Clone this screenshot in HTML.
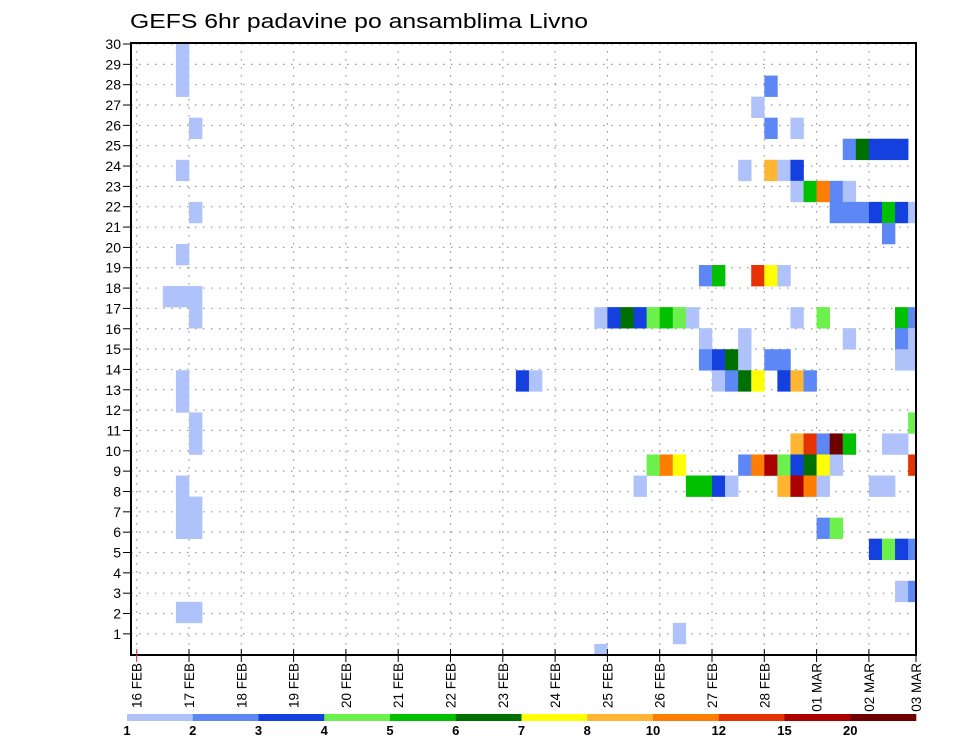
<!DOCTYPE html>
<html><head><meta charset="utf-8"><style>
html,body{margin:0;padding:0;background:#fff}
svg{display:block}
text{font-family:"Liberation Sans",sans-serif;fill:#000}
</style></head><body>
<svg id="chart" width="960" height="742" viewBox="0 0 960 742" xmlns="http://www.w3.org/2000/svg">
<text x="130" y="28" font-size="20" textLength="458" lengthAdjust="spacingAndGlyphs">GEFS 6hr padavine po ansamblima Livno</text>
<g id="grid"></g>
<g id="cells"></g>
<rect x="131" y="43" width="785" height="612" fill="none" stroke="#000" stroke-width="2"/>
<g id="yaxis"></g>
<g id="xaxis"></g>
<g id="colorbar"></g>
</svg>
<script>
const xTickLabels = ["16 FEB","17 FEB","18 FEB","19 FEB","20 FEB","21 FEB","22 FEB","23 FEB","24 FEB","25 FEB","26 FEB","27 FEB","28 FEB","01 MAR","02 MAR","03 MAR"];
const yTickLabels = [1,2,3,4,5,6,7,8,9,10,11,12,13,14,15,16,17,18,19,20,21,22,23,24,25,26,27,28,29,30];
const levelBounds = [1,2,3,4,5,6,7,8,10,12,15,20];
const levelColors = ["#afc3fa","#5c87f5","#1440e0","#6cf04c","#00c000","#007000","#ffff00","#ffb432","#ff7d00","#e63200","#aa0000","#6e0000"];
// cells: time step index (6h from 16 FEB 00z), member row, precip value
const cellRows = [
30,29,28,28,27,26,26,26,25,25,25,25,25,24,24,24,24,24,23,23,23,23,23,
22,22,22,22,22,22,22,22,21,20,19,19,19,19,19,18,18,18,
17,17,17,17,17,17,17,17,17,17,17,17,17,
16,16,16,16,16,15,15,15,15,15,15,15,15,
14,14,14,14,14,14,14,14,14,14,13,12,12,
11,11,11,11,11,11,11,11,
10,10,10,10,10,10,10,10,10,10,10,10,
9,9,9,9,9,9,9,9,9,9,9,9,
8,8,7,7,7,7,6,6,6,6,4,4,3,3,2,1];
const cellTimes = [
3,3,3,48,47,4,48,50,54,55,56,57,58,3,46,48,49,50,50,51,52,53,54,
4,53,54,55,56,57,58,59,57,3,43,44,47,48,49,2,3,4,
4,35,36,37,38,39,40,41,42,50,52,58,59,
43,46,54,58,59,43,44,45,46,48,49,58,59,
3,29,30,44,45,46,47,49,50,51,3,4,59,
4,50,51,52,53,54,57,58,
39,40,41,46,47,48,49,50,51,52,53,59,
3,38,42,43,44,45,49,50,51,52,56,57,
3,4,3,4,52,53,56,57,58,59,58,59,3,4,41,35];
const cellValues = [
1.5,1.5,1.5,2.5,1.5,1.5,2.5,1.5,2.5,6.5,3.5,3.5,3.5,1.5,1.5,9,1.5,3.5,1.5,5.5,11,2.5,1.5,
1.5,2.5,2.5,2.5,3.5,5.5,3.5,1.5,2.5,1.5,2.5,5.5,13,7.5,1.5,1.5,1.5,1.5,
1.5,1.5,3.5,6.5,3.5,4.5,5.5,4.5,1.5,1.5,4.5,5.5,2.5,
1.5,1.5,1.5,2.5,1.5,2.5,3.5,6.5,1.5,2.5,2.5,1.5,1.5,
1.5,3.5,1.5,1.5,2.5,6.5,7.5,3.5,9,2.5,1.5,1.5,4.5,
1.5,9,13,2.5,22,5.5,1.5,1.5,
4.5,11,7.5,2.5,11,17,4.5,3.5,6.5,7.5,1.5,13,
1.5,1.5,5.5,5.5,3.5,1.5,9,17,11,1.5,1.5,1.5,
1.5,1.5,1.5,1.5,2.5,4.5,3.5,4.5,3.5,2.5,1.5,2.5,1.5,1.5,1.5,1.5];

const NS="http://www.w3.org/2000/svg";
const L=131,R=916,T=43,B=655;
const x0=136.7, dayW=52.3, stepW=dayW/4;
function xDay(i){return Math.min(x0+i*dayW,R);}
function xStep(t){return x0+t*stepW;}
function yLabel(v){return 44+(30-v)*20.34;}
const cellH=21.05;
function yCell(v){return 44+(30-v)*cellH;}
function colorFor(v){let k=0;for(let i=0;i<levelBounds.length;i++){if(v>=levelBounds[i])k=i;}return levelColors[k];}
function mk(tag,attrs,parent){const e=document.createElementNS(NS,tag);for(const k in attrs)e.setAttribute(k,attrs[k]);parent.appendChild(e);return e;}

const grid=document.getElementById('grid');
yTickLabels.forEach(v=>{const y=yLabel(v);
 const ln=mk('line',{x1:L,x2:R,y1:y,y2:y,stroke:'#999','stroke-width':1.2,'stroke-dasharray':'1.5 6.5'},grid);
 
 });
xTickLabels.forEach((s,i)=>{const x=xDay(i); if(x>=R)return;
 const ln=mk('line',{x1:x,x2:x,y1:T,y2:B,stroke:'#999','stroke-width':1.2,'stroke-dasharray':'1.5 6.5'},grid);
 
 });

const cells=document.getElementById('cells');
const clip=mk('clipPath',{id:'pc'},mk('defs',{},document.getElementById('chart')));
mk('rect',{x:L,y:T,width:R-L,height:B-T},clip);
cells.setAttribute('clip-path','url(#pc)');
for(let i=0;i<cellValues.length;i++){
 const x=xStep(cellTimes[i]), y=yCell(cellRows[i])-cellH/2;
 const r=mk('rect',{x:x,y:y,width:stepW+0.3,height:cellH+0.3,fill:colorFor(cellValues[i])},cells);
 
 
}

const ya=document.getElementById('yaxis');
yTickLabels.forEach(v=>{const y=yLabel(v);
 const tk=mk('line',{x1:123,x2:131,y1:y,y2:y,stroke:'#000','stroke-width':1},ya);
 
 
 const t=mk('text',{x:121,y:y+5,'font-size':14,'text-anchor':'end'},ya);
 t.textContent=v;
 
 });

const xa=document.getElementById('xaxis');
xTickLabels.forEach((s,i)=>{const x=xDay(i);
 const tk=mk('line',{x1:x,x2:x,y1:649,y2:662,stroke:i===0?'#c33':'#000','stroke-width':1},xa);
 
 
 const t=mk('text',{x:0,y:0,'font-size':13.5,'text-anchor':'end',transform:`translate(${x+5},663) rotate(-90)`},xa);
 t.textContent=s;
 
 });

const cb=document.getElementById('colorbar');
const cbL=127, cbW=(916-127)/levelColors.length;
levelColors.forEach((c,i)=>{
 const r=mk('rect',{x:cbL+i*cbW,y:714,width:cbW+0.3,height:7,fill:c},cb);
 
 });
levelBounds.forEach((b,i)=>{
 const t=mk('text',{x:cbL+i*cbW,y:735,'font-size':13,'font-weight':'bold','text-anchor':'middle'},cb);
 t.textContent=b;
 
 });
</script>
</body></html>
